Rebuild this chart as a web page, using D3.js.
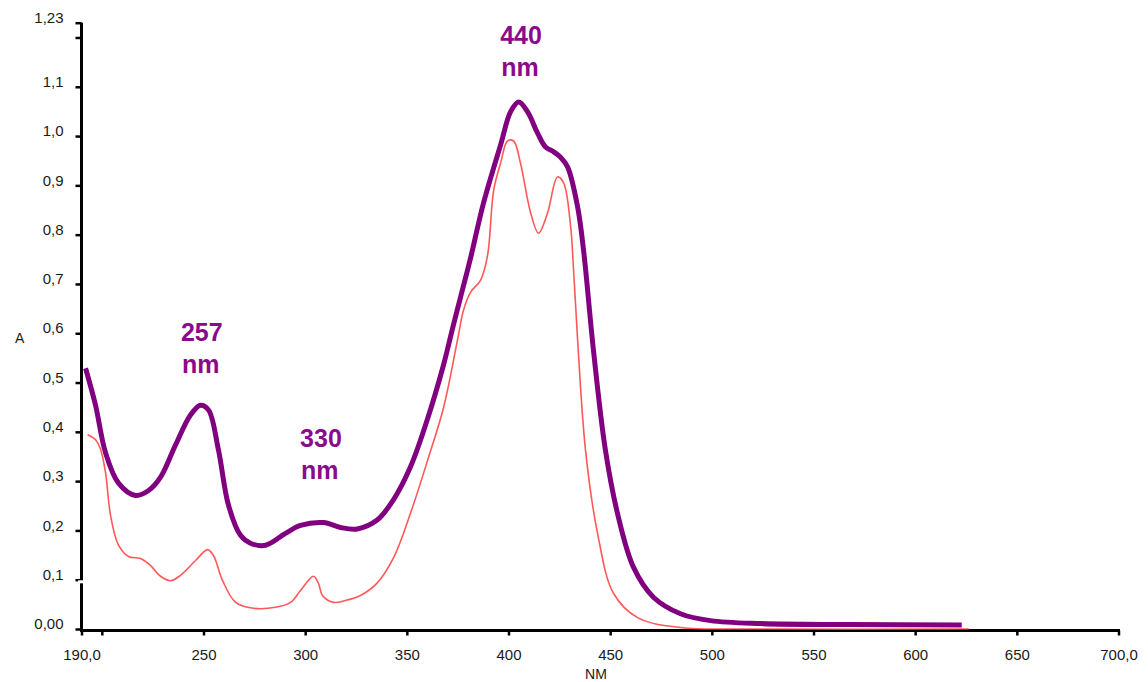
<!DOCTYPE html>
<html>
<head>
<meta charset="utf-8">
<script src="https://cdn.jsdelivr.net/npm/d3@7"></script>
<style>
  body { margin: 0; background: #fff; }
  text { font-family: "Liberation Sans", Arial, sans-serif; }
</style>
</head>
<body>
<div id="chart"></div>
<script>
// wavelength (nm) / absorbance for the thick purple spectrum
const purpleNm = [192.0, 196.9, 201.8, 208.2, 216.6, 223.0, 228.9, 236.2, 243.6, 248.5, 252.5, 257.4, 262.3, 268.2, 273.1, 280.5, 290.3, 297.7, 309.0, 317.4, 325.6, 335.4, 343.4, 351.8, 360.0, 367.8, 372.5, 376.4, 381.3, 387.7, 396.1, 401.0, 405.0, 409.4, 414.3, 418.2, 422.2, 425.6, 429.1, 434.0, 436.9, 441.8, 447.7, 454.1, 461.5, 471.4, 484.6, 499.4, 524.0, 568.3, 622.9];
const purpleA = [0.529, 0.454, 0.358, 0.296, 0.271, 0.281, 0.308, 0.373, 0.434, 0.454, 0.444, 0.362, 0.251, 0.190, 0.174, 0.170, 0.194, 0.210, 0.216, 0.206, 0.203, 0.221, 0.262, 0.329, 0.424, 0.532, 0.610, 0.673, 0.752, 0.864, 0.982, 1.049, 1.069, 1.049, 1.006, 0.978, 0.968, 0.957, 0.937, 0.856, 0.769, 0.565, 0.362, 0.226, 0.125, 0.064, 0.031, 0.017, 0.011, 0.009, 0.008];

// thin red spectrum
const redNm = [193.0, 196.9, 199.3, 201.8, 204.3, 208.2, 213.1, 219.0, 223.9, 228.9, 233.8, 238.7, 246.1, 252.0, 254.9, 259.4, 265.8, 274.6, 285.4, 292.8, 297.7, 304.1, 306.6, 308.5, 314.0, 319.9, 327.2, 335.1, 343.5, 351.8, 360.2, 368.1, 374.9, 377.9, 381.3, 386.3, 389.7, 392.7, 396.1, 399.5, 402.5, 405.9, 410.9, 414.8, 419.2, 424.1, 427.1, 430.5, 432.0, 434.0, 437.9, 443.8, 451.7, 463.5, 484.6, 519.1, 626.3];
const redA = [0.394, 0.384, 0.365, 0.318, 0.230, 0.170, 0.147, 0.143, 0.129, 0.107, 0.098, 0.109, 0.139, 0.161, 0.149, 0.098, 0.054, 0.042, 0.044, 0.054, 0.078, 0.107, 0.092, 0.068, 0.054, 0.058, 0.068, 0.092, 0.145, 0.235, 0.342, 0.450, 0.586, 0.647, 0.683, 0.708, 0.758, 0.890, 0.945, 0.990, 0.990, 0.945, 0.844, 0.803, 0.844, 0.917, 0.905, 0.819, 0.728, 0.586, 0.362, 0.194, 0.072, 0.023, 0.003, 0.0, 0.0];

const xTicks = [190, 200, 250, 300, 350, 400, 450, 500, 550, 600, 650, 700];
const xTickLabels = ["190,0", "", "250", "300", "350", "400", "450", "500", "550", "600", "650", "700,0"];
const yTicks = [0, 0.1, 0.2, 0.3, 0.4, 0.5, 0.6, 0.7, 0.8, 0.9, 1.0, 1.1, 1.2, 1.23];
const yTickLabels = ["0,00", "0,1", "0,2", "0,3", "0,4", "0,5", "0,6", "0,7", "0,8", "0,9", "1,0", "1,1", "", "1,23"];

// peak annotations (placed in data units)
const peakLabels = ["257", "330", "440"];
const peakNm = [238.9, 297.5, 395.9];
const peakA = [0.584, 0.369, 1.187];

const width = 1148;
const height = 682;
const purple = "#800080";
const labelColor = "#8b0a8b";

const svg = d3.select("#chart")
    .append("svg")
    .attr("width", width)
    .attr("height", height);

const x = d3.scaleLinear()
    .domain([190, 700])
    .range([81.5, 1118.5]);

const y = d3.scaleLinear()
    .domain([0, 1.23])
    .range([629, 22.7]);

// x axis
const xAxis = svg.append("g")
    .attr("transform", "translate(0,630.5)")
    .call(d3.axisBottom(x)
        .tickValues(xTicks)
        .tickFormat((d, i) => xTickLabels[i])
        .tickSizeOuter(0)
        .tickSize(5)
        .tickPadding(14));

// y axis
const yAxis = svg.append("g")
    .attr("transform", "translate(81.5,0)")
    .call(d3.axisLeft(y)
        .tickValues(yTicks)
        .tickFormat((d, i) => yTickLabels[i])
        .tickSizeOuter(0)
        .tickSize(6)
        .tickPadding(12));

svg.selectAll(".domain")
    .attr("stroke", "#000")
    .attr("stroke-width", 3);
svg.selectAll(".tick line")
    .attr("stroke", "#000")
    .attr("stroke-width", 2.5);
svg.selectAll(".tick text")
    .attr("font-size", 15)
    .attr("fill", "#1a1a1a");
yAxis.selectAll(".tick text").attr("dy", "-0.02em");

// close the corner of the two axes
xAxis.select(".domain").attr("d", "M" + (x(190) - 1.5) + ",0H" + (x(700) + 1.5));
yAxis.select(".domain").attr("d", "M0," + y(1.23) + "V" + 632);

// small break in the y axis just below 0,1
svg.append("rect")
    .attr("x", 78)
    .attr("y", y(0.1) + 0.6)
    .attr("width", 7)
    .attr("height", 3)
    .attr("fill", "#fff");

// axis titles
svg.append("text")
    .attr("x", 15)
    .attr("y", 342.5)
    .attr("font-size", 14)
    .attr("fill", "#1a1a1a")
    .text("A");

svg.append("text")
    .attr("x", 596)
    .attr("y", 679)
    .attr("text-anchor", "middle")
    .attr("font-size", 14)
    .attr("fill", "#1a1a1a")
    .text("NM");

const line = d3.line()
    .x(d => x(d[0]))
    .y(d => y(d[1]))
    .curve(d3.curveCatmullRom.alpha(0.5));

// red spectrum
svg.append("path")
    .datum(d3.zip(redNm, redA))
    .attr("d", line)
    .attr("fill", "none")
    .attr("stroke", "#ff3b3b")
    .attr("stroke-opacity", 0.85)
    .attr("stroke-width", 1.6);

// purple spectrum
svg.append("path")
    .datum(d3.zip(purpleNm, purpleA))
    .attr("d", line)
    .attr("fill", "none")
    .attr("stroke", purple)
    .attr("stroke-width", 5)
    .attr("stroke-linejoin", "round");

// peak labels: number then "nm" underneath
peakLabels.forEach((lab, i) => {
    const t = svg.append("text")
        .attr("x", x(peakNm[i]))
        .attr("y", y(peakA[i]))
        .attr("font-size", 25)
        .attr("font-weight", "bold")
        .attr("fill", labelColor);
    t.append("tspan")
        .attr("x", x(peakNm[i]))
        .text(lab);
    t.append("tspan")
        .attr("x", x(peakNm[i]) + 1)
        .attr("dy", 32)
        .text("nm");
});
</script>
</body>
</html>
